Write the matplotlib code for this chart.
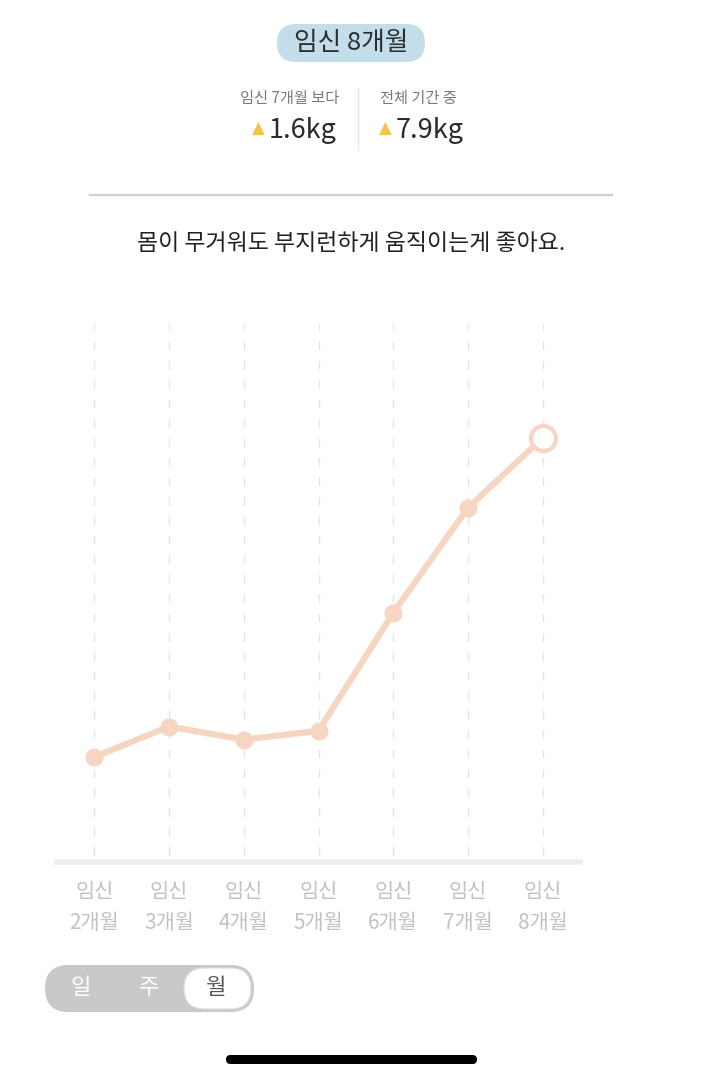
import matplotlib
matplotlib.use("Agg")
import matplotlib.pyplot as plt
from matplotlib.patches import FancyBboxPatch

plt.rcParams['font.family'] = ['Noto Sans CJK KR', 'DejaVu Sans']

# 데이터: 임신 전 대비 체중 증가량 (kg)
months = ["임신\n2개월", "임신\n3개월", "임신\n4개월", "임신\n5개월",
          "임신\n6개월", "임신\n7개월", "임신\n8개월"]
gain_kg = [0.6, 1.3, 1.0, 1.2, 3.9, 6.3, 7.9]
current_label = "임신 8개월"
prev_label = "임신 7개월 보다"
total_label = "전체 기간 중"
diff_prev = 1.6
diff_total = 7.9
message = "몸이 무거워도 부지런하게 움직이는게 좋아요."
toggle_labels = ["일", "주", "월"]

W, H = 702, 1080
LINE = "#F6D5C3"
fig = plt.figure(figsize=(W / 100, H / 100), dpi=100)

# 전체 화면 좌표계 (픽셀)
ui = fig.add_axes([0, 0, 1, 1])
ui.set_xlim(0, W)
ui.set_ylim(H, 0)
ui.axis("off")

# 상단 pill
ui.add_patch(FancyBboxPatch((277, 24), 148, 38, boxstyle="round,pad=0,rounding_size=19",
                            fc="#C3DEEA", ec="none"))
ui.text(351, 43, current_label, ha="center", va="center", fontsize=18.5, color="#2b2f33")

# 요약
ui.text(290, 99, prev_label, ha="center", va="center", fontsize=11, color="#7a7a7a")
ui.text(418, 99, total_label, ha="center", va="center", fontsize=11, color="#7a7a7a")
ui.plot([358, 358], [88, 150], color="#e6e6e6", lw=1)
ui.text(258, 129, "▲", ha="center", va="center", fontsize=12, color="#F2C544",
        family=['DejaVu Sans'])
ui.text(269, 131, f"{diff_prev}kg", ha="left", va="center", fontsize=19.5, color="#2b2b2b")
ui.text(385, 129, "▲", ha="center", va="center", fontsize=12, color="#F2C544",
        family=['DejaVu Sans'])
ui.text(396, 131, f"{diff_total}kg", ha="left", va="center", fontsize=19.5, color="#2b2b2b")

ui.plot([90, 612], [195, 195], color="#cfcfcf", lw=1.6)
ui.text(351, 243, message, ha="center", va="center", fontsize=16.5, color="#222222")

# 토글
ui.add_patch(FancyBboxPatch((45, 965), 209, 47, boxstyle="round,pad=0,rounding_size=23.5",
                            fc="#C9C9C9", ec="none"))
ui.add_patch(FancyBboxPatch((184, 968), 67, 41, boxstyle="round,pad=0,rounding_size=20.5",
                            fc="white", ec="#dcdcdc", lw=0.8))
for xx, lab, col in zip([81, 149, 216], toggle_labels, ["white", "white", "#555555"]):
    ui.text(xx, 988, lab, ha="center", va="center", fontsize=16, color=col)

# 홈 인디케이터
ui.add_patch(FancyBboxPatch((226, 1055), 251, 9, boxstyle="round,pad=0,rounding_size=4.5",
                            fc="black", ec="none"))

# 차트
ax = fig.add_axes([57 / W, 1 - 862 / H, (580 - 57) / W, (862 - 320) / H])
ax.patch.set_alpha(0)
x = list(range(len(months)))
ax.set_xlim(-0.5, 6.5)
ax.set_ylim(-1.8, 10.6)
ax.vlines(x, -1.65, 10.5, colors="#e4e4e4", linestyles=(0, (6, 8)), lw=1)
ax.axhline(-1.8, color="#ececec", lw=4, clip_on=False)
ax.plot(x, gain_kg, color=LINE, lw=4.5, solid_capstyle="round", zorder=3)
ax.plot(x[:-1], gain_kg[:-1], "o", color=LINE, ms=12, zorder=4)
ax.plot(x[-1], gain_kg[-1], "o", mfc="white", mec=LINE, mew=3, ms=18, zorder=5)
ax.set_xticks(x)
ax.set_xticklabels(months, fontsize=15, color="#c2c2c2", linespacing=1.5)
ax.tick_params(axis="x", length=0, pad=14)
ax.set_yticks([])
for s in ax.spines.values():
    s.set_visible(False)

fig.savefig("out.png", dpi=100, facecolor="white")
